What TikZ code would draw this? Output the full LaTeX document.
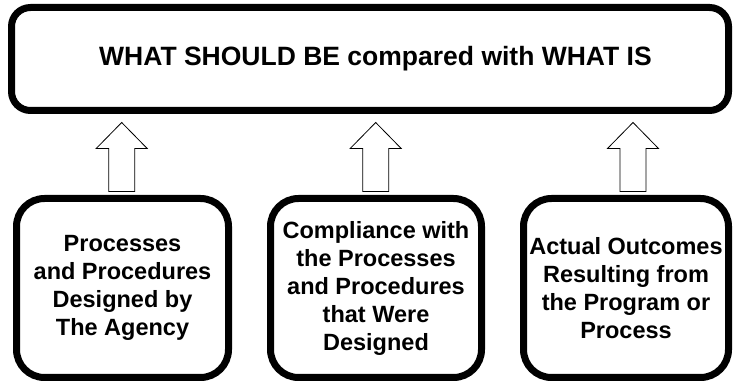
\documentclass[tikz,border=0pt]{standalone}
\usepackage{fontspec}
\setmainfont{Liberation Sans}
\usepackage{tikz}
\usetikzlibrary{calc,positioning}

\newcommand{\hollowup}[3]{%
	\draw[hollow] ($(#1,0 |- #2.north)+(-13,3.5)$) -- ($(#1,0 |- #3.south)+(-13,-34.5)$) -- ++(-12.5,0) -- ($(#1,0 |- #3.south)+(0,-8.5)$) -- ($(#1,0 |- #3.south)+(25.5,-34.5)$) -- ++(-12.5,0) -- ($(#1,0 |- #2.north)+(13,3.5)$) -- cycle;}

\begin{document}
\begin{tikzpicture}[x=1pt,y=1pt,
		topbox/.style={draw, line width=7pt, rounded corners=19pt, minimum width=717pt, minimum height=103pt, font=\bfseries\fontsize{26.5}{30}\selectfont},
		srcbox/.style={draw, line width=7pt, rounded corners=28pt, minimum height=179pt, align=center, inner sep=0pt, font=\bfseries\fontsize{23.5}{28}\selectfont},
		hollow/.style={draw=black, fill=white, line width=0.8pt}]
			\useasboundingbox (0,0) rectangle (733,385);
			\node[topbox] (cmp) at (370,326) {\hspace*{11pt}WHAT SHOULD BE compared with WHAT IS};
			\node[srcbox, minimum width=212pt] (des) at (122.5,97) {Processes\\and Procedures\\Designed by\\The Agency};
			\node[srcbox, minimum width=211pt] (cpl) at (376,97) {Compliance with\\the Processes\\and Procedures\\that Were\\Designed};
			\node[srcbox, minimum width=205pt] (out) at (626,97) {Actual Outcomes\\Resulting from\\the Program or\\Process};
			\hollowup{121.7}{des}{cmp}
			\hollowup{375.7}{cpl}{cmp}
			\hollowup{633}{out}{cmp}
		\end{tikzpicture}
\end{document}
